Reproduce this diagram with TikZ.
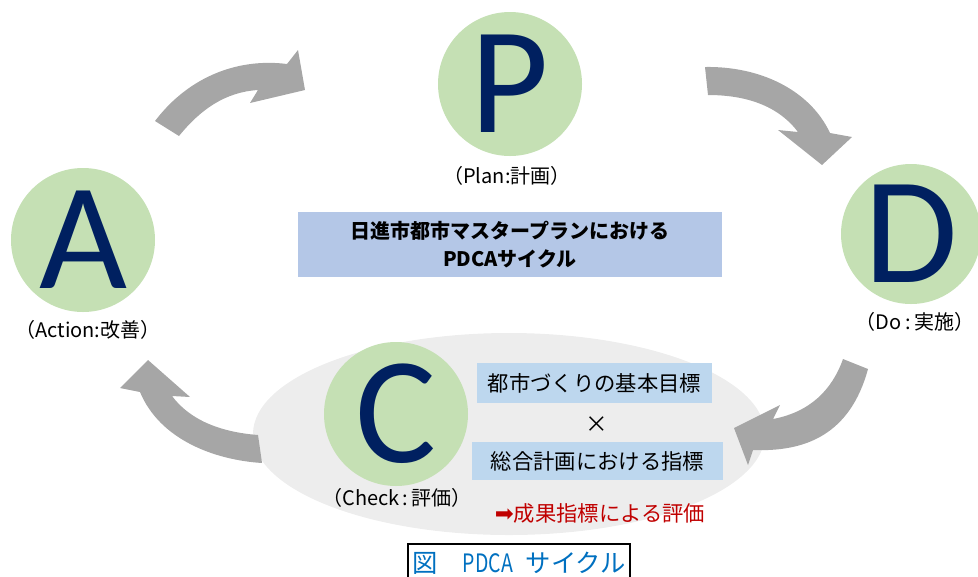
\documentclass[tikz,border=0pt]{standalone}
\usepackage{fontspec}
\usetikzlibrary{shapes.geometric}
\newfontfamily\jp{Noto Sans CJK JP}
\newfontfamily\bigletter{Carlito}
\newfontfamily\dejavu{DejaVu Sans}
\definecolor{arrowgray}{HTML}{A6A6A6}
\definecolor{ellgray}{HTML}{EDEDED}
\definecolor{circgreen}{HTML}{C5E0B4}
\definecolor{navy}{HTML}{002060}
\definecolor{titleblue}{HTML}{B4C7E7}
\definecolor{boxblue}{HTML}{BDD7EE}
\definecolor{redtext}{HTML}{C00000}
\definecolor{capblue}{HTML}{0070C0}
\tikzset{
  circ/.style={circle, fill=circgreen, inner sep=0pt, minimum size=108pt,
    text=navy, font=\bigletter\fontsize{114}{114}\selectfont},
  lbl/.style={inner sep=0pt, font=\jp\fontsize{15}{16}\selectfont, text=black},
  ibox/.style={fill=boxblue, inner sep=0pt, font=\jp\fontsize{16}{18}\selectfont},
  cyc/.style={fill=arrowgray, draw=none}
}
\begin{document}
\begin{tikzpicture}[x=0.75pt, y=-0.75pt]
\useasboundingbox (0,0) rectangle (978,576);
\clip (0,0) rectangle (978,576);
% ellipse background for C
\node[ellipse, fill=ellgray, minimum width=384pt, minimum height=151.5pt, inner sep=0pt] (E) at (509,434) {};
% circles
\node[circ] (P) at (510,84) {P};
\node[circ, minimum size=105pt] (D) at (911,234) {D};
\node[circ] (A) at (83,240) {A};
\node[circ] (C) at (396,414) {C};
% labels
\node[lbl] (Pl) at (507,176) {（Plan:計画）};
\node[lbl] (Dl) at (915,322) {（Do\,:\,実施）};
\node[lbl] (Al) at (88,330) {（Action:改善）};
\node[lbl] (Cl) at (397,498) {（Check\,:\,評価）};
% title
\node[fill=titleblue, minimum width=318pt, minimum height=48.75pt, inner sep=0pt,
  align=center, font=\jp\bfseries\fontsize{15}{21}\selectfont] (T) at (510,244.5)
  {日進市都市マスタープランにおける\\PDCAサイクル};
% inner boxes
\node[ibox, minimum width=176.25pt, minimum height=30pt] (B1) at (594.5,383) {都市づくりの基本目標};
\node[inner sep=0pt, font=\jp\fontsize{17}{18}\selectfont] (X) at (597,425) {×};
\node[ibox, minimum width=188.25pt, minimum height=28.5pt] (B2) at (597.5,461) {総合計画における指標};
\node[inner sep=0pt, text=redtext, font=\jp\fontsize{16}{18}\selectfont] (R) at (600,513)
  {{\dejavu\fontsize{17}{18}\selectfont ➡}成果指標による評価};
% cycle arrows
\fill[cyc] (155,121) .. controls (190,75) and (240,58) .. (287,64) -- (298,50) -- (305,90)
  -- (250,103) -- (258,90) .. controls (225,92) and (200,110) .. (179,136) -- cycle;
\fill[cyc] (705,67) .. controls (760,66) and (810,90) .. (830,133) -- (852,137) -- (822,165)
  -- (778,130) -- (798,132) .. controls (780,108) and (750,95) .. (708,95) -- cycle;
\fill[cyc] (868,369) .. controls (850,435) and (805,452) .. (753,450) -- (748,465) -- (734,428)
  -- (780,405) -- (773,419) .. controls (810,412) and (832,390) .. (843,359) -- cycle;
\fill[cyc] (262,463) .. controls (215,460) and (160,440) .. (140,392) -- (120,388) -- (148,360)
  -- (190,397) -- (172,396) .. controls (190,420) and (220,432) .. (258,435) -- cycle;
% caption
\node[draw=black, line width=1.2pt, minimum width=166.5pt, minimum height=28.5pt, inner sep=0pt,
  text=capblue, font=\jp\fontsize{19}{20}\selectfont, anchor=north] (Cap) at (519,543)
  {図\hspace{1em}\scalebox{0.77}[1]{PDCA}\hspace{0.5em}サイクル};
\end{tikzpicture}
\end{document}
